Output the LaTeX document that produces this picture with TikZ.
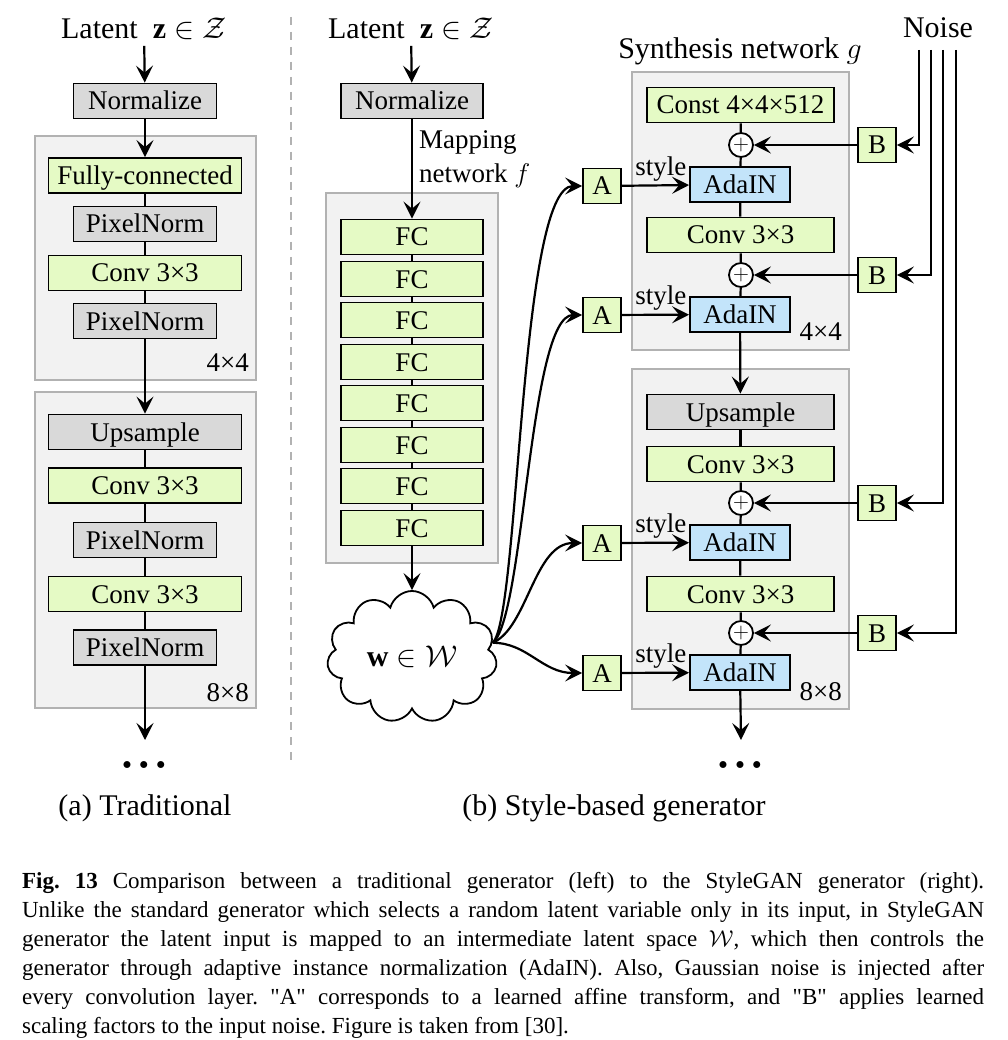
\RequirePackage{fix-cm}
\documentclass[tikz,border=0pt]{standalone}
\usepackage{amsmath,amssymb}
\usepackage{fontspec}
\setmainfont{Liberation Serif}[Ligatures=TeXOff]
\usepackage{tikz}
\usetikzlibrary{arrows.meta,positioning,shapes.symbols}
\definecolor{boxgray}{RGB}{217,217,217}
\definecolor{boxgreen}{RGB}{229,250,197}
\definecolor{boxblue}{RGB}{195,228,250}
\definecolor{grpfill}{RGB}{242,242,242}
\definecolor{grpline}{RGB}{178,178,178}
\newcommand{\moredots}{{\fontsize{18}{18}\selectfont$\mathord{\bullet}\kern8pt\mathord{\bullet}\kern8pt\mathord{\bullet}$}}
\tikzset{
  blk/.style={draw=black,line width=1.8pt,minimum height=35pt,inner sep=0pt,text height=23pt,text depth=5pt,font=\fontsize{27}{30}\selectfont},
  graybox/.style={blk,fill=boxgray},
  greenbox/.style={blk,fill=boxgreen},
  bluebox/.style={blk,fill=boxblue},
  grp/.style={fill=grpfill,draw=grpline,line width=1.8pt},
  addnode/.style={circle,draw=black,fill=white,line width=1.8pt,minimum size=24pt,inner sep=0pt,font=\fontsize{22}{22}\selectfont},
  lbl/.style={inner sep=0pt,font=\fontsize{27}{34}\selectfont},
  hdr/.style={inner sep=0pt,font=\fontsize{30}{34}\selectfont},
}

\begin{document}
\begin{tikzpicture}[x=1pt,y=-1pt,line width=2.2pt,>={Stealth[length=17pt,width=17pt,inset=7pt]}]
\path[use as bounding box,fill=white] (0,0) rectangle (1007,1040);
% \draw[help lines] (0,0) grid[step=50] (1007,1040);

% group boxes
\draw[grp] (35,136) rectangle (256,380);
\draw[grp] (35,392) rectangle (256,708);
\draw[grp] (326,193) rectangle (498,563);
\draw[grp] (632,72) rectangle (849,350);
\draw[grp] (632,369) rectangle (849,709);
\coordinate (septop) at (291,17);
\coordinate (sepbot) at (291,763);
\draw[grpline,line width=1.8pt,dash pattern=on 8pt off 7pt] (septop) -- (sepbot);

% (a) traditional
\node (lz) [hdr,inner sep=5pt] at (144,29) {Latent~~$\mathbf{z}\in\mathcal{Z}$};
\node (lnorm) [graybox,minimum width=143pt] at (145,101) {Normalize};
\node (lfc) [greenbox,minimum width=193pt] at (145,175.5) {Fully-connected};
\node (lpn1) [graybox,minimum width=143pt] at (145,224) {PixelNorm};
\node (lcv1) [greenbox,minimum width=193pt] at (145,273) {Conv 3×3};
\node (lpn2) [graybox,minimum width=143pt] at (145,321) {PixelNorm};
\node (l44) [lbl,anchor=south east] at (250,373) {4×4};
\node (lup) [graybox,minimum width=193pt] at (145,432) {Upsample};
\node (lcv2) [greenbox,minimum width=193pt] at (145,485.5) {Conv 3×3};
\node (lpn3) [graybox,minimum width=143pt] at (145,540) {PixelNorm};
\node (lcv3) [greenbox,minimum width=193pt] at (145,594) {Conv 3×3};
\node (lpn4) [graybox,minimum width=143pt] at (145,647.5) {PixelNorm};
\node (l88) [lbl,anchor=south east] at (250,703) {8×8};
\coordinate (lend) at (145,740);
\node (ldots) [lbl] at (144,765) {\moredots};
\node (capa) [hdr] at (145,808) {(a) Traditional};
%
\path[->]
(lz) edge (lnorm)
(lnorm) edge (lfc)
(lpn2) edge (lup)
(lpn4) edge (lend)
;
\path[-]
(lfc) edge (lpn1)
(lpn1) edge (lcv1)
(lcv1) edge (lpn2)
(lup) edge (lcv2)
(lcv2) edge (lpn3)
(lpn3) edge (lcv3)
(lcv3) edge (lpn4)
;

% (b) mapping network
\node (mz) [hdr,inner sep=5pt] at (411,29) {Latent~~$\mathbf{z}\in\mathcal{Z}$};
\node (mnorm) [graybox,minimum width=142pt] at (412,101) {Normalize};
\node (mlab) [lbl,align=left,anchor=north west] at (418,130) {Mapping\\network $f$};
\node (fc1) [greenbox,minimum width=142pt] at (412,237) {FC};
\node (fc2) [greenbox,minimum width=142pt] at (412,279) {FC};
\node (fc3) [greenbox,minimum width=142pt] at (412,320) {FC};
\node (fc4) [greenbox,minimum width=142pt] at (412,362) {FC};
\node (fc5) [greenbox,minimum width=142pt] at (412,403) {FC};
\node (fc6) [greenbox,minimum width=142pt] at (412,445) {FC};
\node (fc7) [greenbox,minimum width=142pt] at (412,486) {FC};
\node (fc8) [greenbox,minimum width=142pt] at (412,528) {FC};
\node (wcl) [cloud,draw=black,line width=1.8pt,fill=white,cloud puffs=11,aspect=1.3,minimum width=170pt,minimum height=132pt,inner sep=0pt,font=\fontsize{30}{34}\selectfont] at (412,657) {$\mathbf{w}\in\mathcal{W}$};
\node (capb) [hdr] at (614,808) {(b) Style-based generator};
%
\path[->]
(mz) edge (mnorm)
(mnorm) edge (fc1)
(fc8) edge (wcl)
;
\path[-]
(fc1) edge (fc2)
(fc2) edge (fc3)
(fc3) edge (fc4)
(fc4) edge (fc5)
(fc5) edge (fc6)
(fc6) edge (fc7)
(fc7) edge (fc8)
;

% (b) synthesis network
\node (gtitle) [hdr] at (740,51) {Synthesis network $g$};
\node (noise) [hdr] at (938,28) {Noise};
\node (const) [greenbox,minimum width=187pt] at (740.5,105) {Const 4×4×512};
\node (add1) [addnode] at (741,145) {$+$};
\node (ada1) [bluebox,minimum width=100pt] at (740,184.5) {AdaIN};
\node (sconv1) [greenbox,minimum width=187pt] at (740.5,235) {Conv 3×3};
\node (add2) [addnode] at (741,275) {$+$};
\node (ada2) [bluebox,minimum width=100pt] at (740,314.5) {AdaIN};
\node (s44) [lbl,anchor=south east] at (843,342) {4×4};
\node (supsmp) [graybox,minimum width=187pt] at (740.5,412) {Upsample};
\node (sconv2) [greenbox,minimum width=187pt] at (740.5,464) {Conv 3×3};
\node (add3) [addnode] at (741,503) {$+$};
\node (ada3) [bluebox,minimum width=100pt] at (740,542.5) {AdaIN};
\node (sconv3) [greenbox,minimum width=187pt] at (740.5,594) {Conv 3×3};
\node (add4) [addnode] at (741,633) {$+$};
\node (ada4) [bluebox,minimum width=100pt] at (740,672.5) {AdaIN};
\node (s88) [lbl,anchor=south east] at (843,702) {8×8};
\coordinate (send) at (741,740);
\node (sdots) [lbl] at (740,765) {\moredots};
%
\node (a1) [greenbox,minimum width=38pt] at (602,186) {A};
\node (a2) [greenbox,minimum width=38pt] at (602,315) {A};
\node (a3) [greenbox,minimum width=38pt] at (602,543) {A};
\node (a4) [greenbox,minimum width=38pt] at (602,673) {A};
\node (b1) [greenbox,minimum width=38pt] at (877,145) {B};
\node (b2) [greenbox,minimum width=38pt] at (877,275) {B};
\node (b3) [greenbox,minimum width=38pt] at (877,503) {B};
\node (b4) [greenbox,minimum width=38pt] at (877,633) {B};
\coordinate (n1) at (919,50);
\coordinate (n2) at (931,50);
\coordinate (n3) at (943,50);
\coordinate (n4) at (956,50);
%
\path[-]
(const) edge (add1)
(add1) edge (ada1)
(ada1) edge (sconv1)
(sconv1) edge (add2)
(add2) edge (ada2)
(supsmp) edge (sconv2)
(sconv2) edge (add3)
(add3) edge (ada3)
(ada3) edge (sconv3)
(sconv3) edge (add4)
(add4) edge (ada4)
;
\path[->]
(ada2) edge (supsmp)
(ada4) edge (send)
(b1) edge (add1)
(b2) edge (add2)
(b3) edge (add3)
(b4) edge (add4)
(a1) edge node[lbl,above=3pt,pos=0.58] {style} (ada1)
(a2) edge node[lbl,above=3pt,pos=0.58] {style} (ada2)
(a3) edge node[lbl,above=3pt,pos=0.58] {style} (ada3)
(a4) edge node[lbl,above=3pt,pos=0.58] {style} (ada4)
;
\draw[->] (n1) |- (b1);
\draw[->] (n2) |- (b2);
\draw[->] (n3) |- (b3);
\draw[->] (n4) |- (b4);
% w to the A boxes
\draw[->] (wcl.10) .. controls +(27,-25) and +(-63,0) .. (a1.west);
\draw[->] (wcl.10) .. controls +(32,-25) and +(-53,0) .. (a2.west);
\draw[->] (wcl.10) .. controls +(35,-15) and +(-48,0) .. (a3.west);
\draw[->] (wcl.10) .. controls +(35,0) and +(-40,0) .. (a4.west);

% caption
\node (figcap) [anchor=north west,inner sep=0pt,text width=962pt,align=justify,font=\fontsize{23}{29}\selectfont\frenchspacing] at (21,871)
{\textbf{Fig.~13} Comparison between a traditional generator (left) to the StyleGAN generator (right).\linebreak
Unlike the standard generator which selects a random latent variable only in its input, in StyleGAN\linebreak
generator the latent input is mapped to an intermediate latent space $\mathcal{W}$, which then controls the\linebreak
generator through adaptive instance normalization (AdaIN). Also, Gaussian noise is injected after\linebreak
every convolution layer. "A" corresponds to a learned affine transform, and "B" applies learned\linebreak
scaling factors to the input noise. Figure is taken from [30].};
\end{tikzpicture}
\end{document}
